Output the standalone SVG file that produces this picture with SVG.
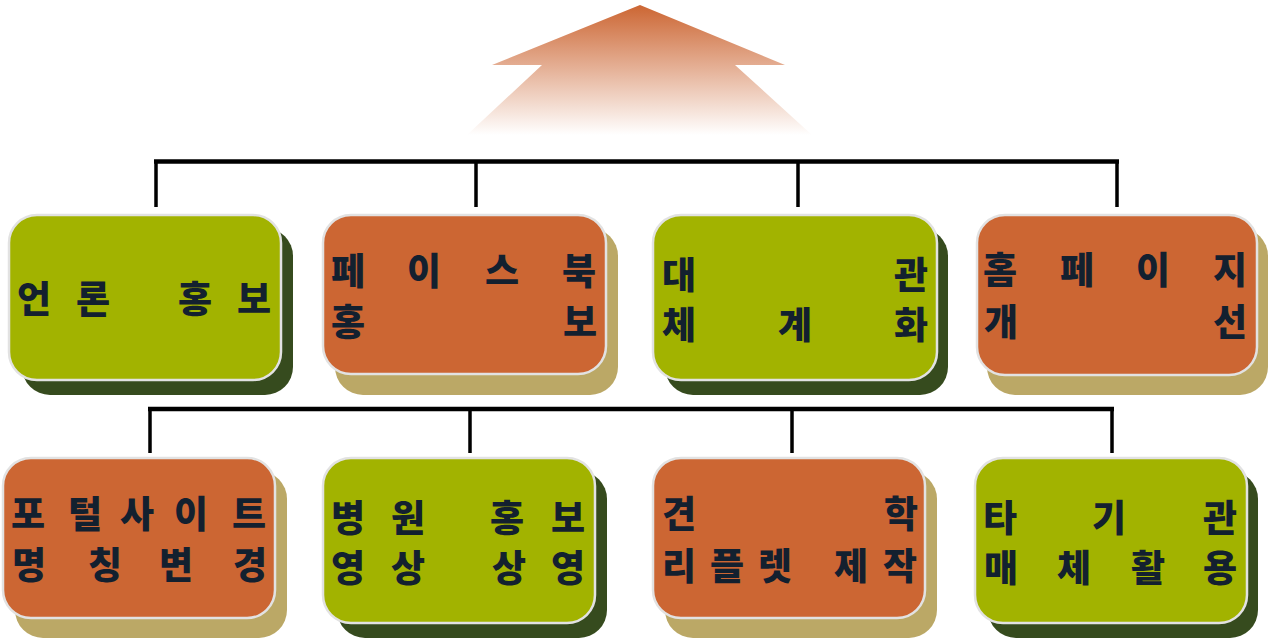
<svg xmlns="http://www.w3.org/2000/svg" width="1271" height="639" viewBox="0 0 1271 639">
<defs>
<linearGradient id="ag" x1="0" y1="0" x2="0" y2="1">
<stop offset="0" stop-color="#CC6633"/>
<stop offset="1" stop-color="#FFFFFF"/>
</linearGradient>
</defs>
<style>
.g{fill:#A2B300;stroke:#E2E2E2;stroke-width:2.5}
.o{fill:#CC6633;stroke:#E2E2E2;stroke-width:2.5}
.gs{fill:#364B1E}
.os{fill:#BBA866}
.t{font-family:"Noto Sans CJK KR","Noto Sans CJK SC",sans-serif;font-weight:900;font-size:37px;fill:#13202F;text-anchor:middle;dominant-baseline:central}
.c{fill:none;stroke:#000;stroke-width:3.5}
.h{fill:none;stroke:#000;stroke-width:4.5}
</style>
<polygon id="arrow" points="640,5 785,65 735,65 812,135 467,135 542,65 492,65" fill="url(#ag)"/>
<g id="connectors">
<path class="h" d="M154,161.5 H1119"/>
<path class="c" d="M156,161 V207 M476,161 V207 M798,161 V207 M1117,161 V207"/>
<path class="h" d="M148,409 H1114"/>
<path class="c" d="M150,409 V453 M470,409 V453 M792,409 V453 M1112,409 V453"/>
</g>
<g id="n1">
<rect class="gs" x="22" y="228" width="271" height="167" rx="28"/>
<rect class="g" x="9" y="215" width="272" height="165" rx="28"/>
<text class="t" y="297" x="34 93 144 195 254">언론 홍보</text>
</g>
<g id="n2">
<rect class="os" x="335" y="228" width="283" height="167" rx="28"/>
<rect class="o" x="323" y="215" width="283" height="159" rx="28"/>
<text class="t" y="269" x="348 424 502 579">페이스북</text>
<text class="t" y="320" x="348 580">홍보</text>
</g>
<g id="n3">
<rect class="gs" x="665" y="228" width="283" height="167" rx="28"/>
<rect class="g" x="653" y="215" width="284" height="165" rx="28"/>
<text class="t" y="273" x="679 911">대관</text>
<text class="t" y="323" x="679 795 911">체계화</text>
</g>
<g id="n4">
<rect class="os" x="987" y="228" width="281" height="167" rx="28"/>
<rect class="o" x="977" y="215" width="280" height="160" rx="28"/>
<text class="t" y="268" x="1000 1077 1153 1230">홈페이지</text>
<text class="t" y="320" x="1001 1230">개선</text>
</g>
<g id="n5">
<rect class="os" x="15" y="471" width="272" height="167" rx="28"/>
<rect class="o" x="3" y="458" width="272" height="160" rx="28"/>
<text class="t" y="512" x="28 85 137 191 249">포털사이트</text>
<text class="t" y="563" x="29 105 176 250">명칭변경</text>
</g>
<g id="n6">
<rect class="gs" x="337" y="471" width="270" height="167" rx="28"/>
<rect class="g" x="323" y="458" width="272" height="165" rx="28"/>
<text class="t" y="516" x="348 408 458 507 568">병원 홍보</text>
<text class="t" y="566" x="348 408 458 509 568">영상 상영</text>
</g>
<g id="n7">
<rect class="os" x="665" y="471" width="272" height="167" rx="28"/>
<rect class="o" x="653" y="458" width="272" height="160" rx="28"/>
<text class="t" y="512" x="679 901">견학</text>
<text class="t" y="564" x="679 727 775 813 851 900">리플렛 제작</text>
</g>
<g id="n8">
<rect class="gs" x="988" y="471" width="270" height="167" rx="28"/>
<rect class="g" x="975" y="458" width="272" height="165" rx="28"/>
<text class="t" y="516" x="1000 1109 1220">타기관</text>
<text class="t" y="566" x="1001 1074 1148 1220">매체활용</text>
</g>
</svg>
